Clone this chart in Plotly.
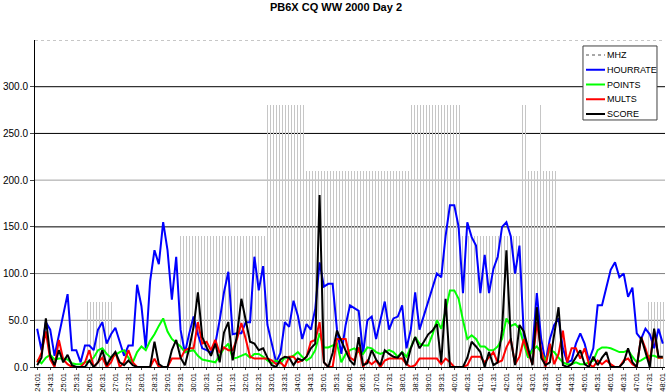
import plotly.graph_objects as go

# categories: 10-minute slots from 24:01 to 48:01
times = [f"{24 + (1 + 10 * k) // 60}:{(1 + 10 * k) % 60:02d}" for k in range(145)]
tick_labels = times[::3]

mhz = ([0] * 12 + [70] * 6 + [0] * 15 + [140] * 20 + [280] * 9 + [210] * 24 +
       [280] * 12 + [140] * 14 + [280] + [210] * 3 + [280] + [210] * 3 + [0] * 21 + [70] * 4)

hourrate = [41, 18, 48, 40, 12, 35, 55, 78, 18, 18, 5, 23, 23, 18, 40, 48, 25, 35, 42, 28,
            12, 23, 23, 88, 65, 20, 92, 125, 110, 155, 125, 72, 118, 40, 15, 36, 54, 35, 20, 18,
            15, 25, 50, 80, 102, 35, 36, 36, 48, 48, 118, 82, 108, 45, 25, 5, 15, 48, 43, 71,
            55, 30, 46, 40, 62, 112, 86, 89, 89, 40, 14, 45, 66, 63, 60, 14, 50, 54, 30, 50,
            70, 40, 52, 54, 66, 20, 40, 80, 40, 55, 70, 86, 100, 96, 140, 173, 173, 150, 79, 155,
            139, 130, 79, 120, 79, 105, 118, 150, 155, 140, 100, 130, 35, 10, 20, 79, 30, 5, 30, 45,
            52, 20, 5, 7, 25, 36, 25, 7, 20, 66, 66, 85, 104, 112, 96, 100, 75, 85, 36, 30,
            41, 35, 20, 41, 25]

points = [8, 4, 10, 13, 8, 9, 9, 8, 4, 3, 3, 5, 6, 10, 18, 20, 14, 10, 13, 16,
          18, 10, 5, 16, 22, 18, 28, 35, 44, 52, 38, 30, 26, 22, 16, 17, 18, 12, 8, 7,
          6, 5, 12, 20, 25, 9, 10, 12, 14, 10, 14, 14, 11, 7, 4, 7, 4, 10, 10, 12,
          16, 11, 7, 10, 18, 36, 21, 21, 23, 25, 5, 14, 18, 20, 16, 14, 21, 20, 16, 14,
          16, 18, 16, 11, 16, 11, 21, 32, 25, 23, 23, 35, 50, 41, 60, 82, 82, 73, 50, 30,
          34, 30, 22, 22, 18, 18, 22, 30, 52, 44, 46, 41, 25, 10, 18, 22, 16, 7, 18, 16,
          10, 5, 3, 3, 5, 3, 3, 5, 7, 18, 21, 21, 20, 18, 16, 16, 18, 11, 5, 7,
          10, 12, 12, 10, 10]

mults = [5, 15, 38, 8, 0, 29, 8, 3, 0, 0, 0, 5, 18, 0, 5, 10, 0, 5, 16, 0,
         5, 18, 5, 0, 0, 0, 0, 9, 0, 0, 0, 9, 9, 9, 18, 20, 20, 48, 25, 27,
         18, 29, 15, 21, 18, 18, 30, 47, 30, 11, 9, 9, 9, 9, 7, 3, 5, 0, 11, 11,
         5, 7, 11, 27, 29, 48, 5, 0, 0, 30, 30, 30, 10, 7, 21, 0, 7, 3, 7, 0,
         7, 9, 9, 9, 9, 3, 0, 2, 9, 9, 9, 9, 9, 3, 9, 5, 0, 0, 0, 2,
         11, 11, 11, 5, 11, 16, 5, 7, 21, 30, 3, 11, 30, 15, 3, 48, 18, 0, 25, 3,
         14, 39, 5, 20, 20, 9, 20, 3, 0, 7, 3, 7, 3, 0, 0, 7, 9, 3, 0, 32,
         20, 5, 39, 10, 10]

score = [2, 10, 52, 12, 2, 18, 5, 13, 2, 0, 0, 0, 7, 0, 5, 18, 2, 10, 16, 5,
         2, 7, 2, 0, 0, 0, 0, 27, 3, 0, 0, 18, 29, 10, 2, 20, 43, 80, 32, 21,
         12, 25, 5, 37, 48, 7, 35, 73, 50, 27, 25, 18, 20, 10, 2, 0, 8, 11, 10, 2,
         9, 7, 11, 20, 25, 184, 5, 0, 15, 39, 28, 18, 7, 2, 32, 2, 4, 18, 8, 2,
         18, 14, 11, 10, 16, 2, 20, 32, 20, 27, 35, 39, 46, 5, 73, 0, 0, 0, 0, 10,
         27, 22, 16, 0, 16, 2, 5, 40, 125, 30, 2, 45, 38, 20, 2, 64, 10, 2, 5, 35,
         64, 2, 0, 3, 10, 18, 3, 0, 11, 2, 10, 16, 0, 0, 0, 5, 20, 5, 0, 32,
         15, 0, 41, 11, 11]

y_ticks = [0, 50, 100, 150, 200, 250, 300]
grid_colors = ["#000000", "#808080", "#808080", "#000000", "#a0a0a0", "#000000", "#000000"]

FONT = "Arial, Liberation Sans, sans-serif"

series = [("HOURRATE", hourrate, "#0000ff"), ("POINTS", points, "#00ff00"),
          ("MULTS", mults, "#ff0000"), ("SCORE", score, "#000000")]
legend_entries = [("MHZ", "#a8a8a8", "dot")] + [(n, c, "solid") for n, _, c in series]

fig = go.Figure()

fig.add_trace(go.Bar(
    x=times, y=mhz, name="MHZ",
    marker=dict(color="rgba(0,0,0,0)", line=dict(width=0),
                pattern=dict(shape="|", fgcolor="#c6c6c6", bgcolor="rgba(0,0,0,0)",
                             size=3, solidity=0.35, fillmode="replace")),
    hoverinfo="skip",
))
for name, vals, col in series:
    fig.add_trace(go.Scatter(x=times, y=vals, mode="lines", name=name,
                             line=dict(color=col, width=2)))

shapes = []
for v, c in zip(y_ticks[1:], grid_colors[1:]):
    shapes.append(dict(type="line", xref="paper", yref="y", x0=0, x1=1, y0=v, y1=v,
                       line=dict(color=c, width=1), layer="below"))
shapes.append(dict(type="line", xref="paper", yref="y", x0=0, x1=1, y0=350, y1=350,
                   line=dict(color="#909090", width=1, dash="dot"), layer="below"))

# legend box drawn in paper space (compact, like the original)
box_x0, box_x1, box_y0, box_y1 = 0.8698, 0.9873, 0.7554, 0.9817
shapes.append(dict(type="rect", xref="paper", yref="paper", x0=box_x0, x1=box_x1,
                   y0=box_y0, y1=box_y1, fillcolor="white",
                   line=dict(color="#404040", width=1), layer="above"))
annotations = []
item_top, item_step = 0.9541, 0.0451
for k, (name, col, dash) in enumerate(legend_entries):
    yy = item_top - k * item_step
    shapes.append(dict(type="line", xref="paper", yref="paper", x0=0.8746, x1=0.9048,
                       y0=yy, y1=yy, line=dict(color=col, width=2, dash=dash), layer="above"))
    annotations.append(dict(text=name, xref="paper", yref="paper", x=0.9055, y=yy,
                            xanchor="left", yanchor="middle", showarrow=False,
                            font=dict(family=FONT, size=9, color="black")))

fig.update_layout(
    width=672, height=392,
    margin=dict(l=35, r=7, t=40, b=25, autoexpand=False),
    paper_bgcolor="white", plot_bgcolor="white",
    title=dict(text="<b>PB6X CQ WW 2000 Day 2</b>", x=0.5, xanchor="center",
               y=0.992, yanchor="top", font=dict(family=FONT, size=11, color="black")),
    bargap=0,
    shapes=shapes,
    annotations=annotations,
    font=dict(family=FONT, color="black"),
    showlegend=False,
)
fig.update_xaxes(type="category", tickmode="array", tickvals=tick_labels, ticktext=tick_labels,
                 tickangle=-90, tickfont=dict(size=7.5, family=FONT), ticks="outside", ticklen=2,
                 showline=True, linecolor="black", linewidth=1, showgrid=False,
                 range=[-0.5, 144.5], automargin=False)
fig.update_yaxes(range=[0, 350], tickmode="array", tickvals=y_ticks,
                 ticktext=[f"{v:.1f}" for v in y_ticks], tickfont=dict(size=10, family=FONT),
                 ticks="outside", ticklen=4, showline=True, linecolor="black", linewidth=1,
                 showgrid=False, zeroline=False, automargin=False)

fig.write_html("out.html", config={"displayModeBar": False},
               post_script="document.body.style.margin='0';document.body.style.overflow='hidden';")
